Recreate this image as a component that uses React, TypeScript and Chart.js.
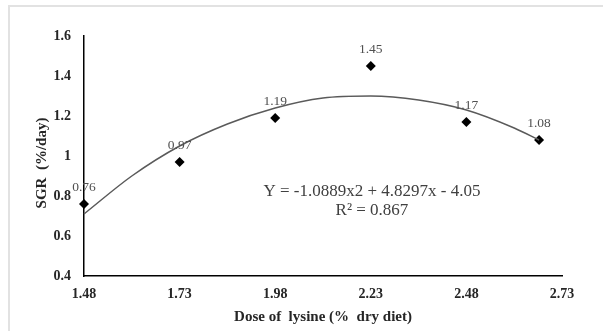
import React, { useEffect, useRef } from "react";
import { Chart, registerables } from "chart.js";

Chart.register(...registerables);

// Observed data points
const doseX: number[] = [1.48, 1.73, 1.98, 2.23, 2.48, 2.67];
const sgrY: number[] = [0.76, 0.97, 1.19, 1.45, 1.17, 1.08];
const pointLabels: string[] = ["0.76", "0.97", "1.19", "1.45", "1.17", "1.08"];

// Trend curve
const trendX: number[] = [1.48, 1.605, 1.73, 1.855, 1.98, 2.105, 2.23, 2.355, 2.48, 2.605, 2.67];
const trendY: number[] = [0.71, 0.9, 1.05, 1.16, 1.24, 1.29, 1.3, 1.28, 1.23, 1.14, 1.08];

// Axis ticks
const xTicks: number[] = [1.48, 1.73, 1.98, 2.23, 2.48, 2.73];
const xTickLabels: string[] = ["1.48", "1.73", "1.98", "2.23", "2.48", "2.73"];
const yTicks: number[] = [0.4, 0.6, 0.8, 1.0, 1.2, 1.4, 1.6];
const yTickLabels: string[] = ["0.4", "0.6", "0.8", "1", "1.2", "1.4", "1.6"];

const xTitle = "Dose of  lysine (%  dry diet)";
const yTitle = "SGR  (%/day)";
const equationLines: string[] = ["Y = -1.0889x2 + 4.8297x - 4.05", "R\u00B2 = 0.867"];
const equationAnchor: number[] = [2.233, 0.82];

const SERIF = '"Liberation Serif", "Times New Roman", serif';

const labelPlugin = {
  id: "labelPlugin",
  afterDatasetsDraw(chart: any) {
    const ctx = chart.ctx;
    const meta = chart.getDatasetMeta(1);
    ctx.save();
    ctx.font = `13.5px ${SERIF}`;
    ctx.fillStyle = "#505050";
    ctx.textAlign = "center";
    ctx.textBaseline = "middle";
    meta.data.forEach((el: any, i: number) => {
      ctx.fillText(pointLabels[i], el.x, el.y - 17);
    });
    const xs = chart.scales.x;
    const ys = chart.scales.y;
    const ex = xs.getPixelForValue(equationAnchor[0]);
    const ey = ys.getPixelForValue(equationAnchor[1]);
    ctx.font = `17px ${SERIF}`;
    ctx.fillStyle = "#404040";
    equationLines.forEach((t, i) => {
      ctx.fillText(t, ex, ey + i * 19);
    });
    // y-axis title
    const ya = chart.chartArea;
    ctx.translate(42, (ya.top + ya.bottom) / 2 + 7);
    ctx.rotate(-Math.PI / 2);
    ctx.font = `bold 15px ${SERIF}`;
    ctx.fillStyle = "#262626";
    ctx.fillText(yTitle, 0, 0);
    ctx.restore();
  },
};

export default function App() {
  const ref = useRef<HTMLCanvasElement | null>(null);

  useEffect(() => {
    if (!ref.current) return;
    const chart = new Chart(ref.current, {
      type: "scatter",
      data: {
        datasets: [
          {
            type: "line",
            data: trendX.map((x, i) => ({ x, y: trendY[i] })),
            borderColor: "#5a5a5a",
            borderWidth: 1.5,
            pointRadius: 0,
            cubicInterpolationMode: "monotone",
            fill: false,
            clip: false,
          } as any,
          {
            type: "scatter",
            data: doseX.map((x, i) => ({ x, y: sgrY[i] })),
            pointStyle: "rectRot",
            pointRadius: 5,
            backgroundColor: "#000000",
            borderColor: "#000000",
            borderWidth: 0,
            clip: false,
          } as any,
        ],
      },
      options: {
        responsive: false,
        maintainAspectRatio: false,
        animation: false,
        layout: { padding: { left: 0, right: 41, top: 36, bottom: 0 } },
        plugins: {
          legend: { display: false },
          tooltip: { enabled: false },
        },
        scales: {
          x: {
            type: "linear",
            position: "bottom",
            min: 1.48,
            max: 2.73,
            afterBuildTicks: (scale: any) => {
              scale.ticks = xTicks.map((v) => ({ value: v }));
            },
            afterFit: (scale: any) => {
              scale.height = 55;
            },
            grid: { display: false, drawTicks: false },
            border: { display: true, color: "#000000", width: 1.5 },
            ticks: {
              padding: 10,
              color: "#262626",
              font: { family: SERIF, size: 14, weight: "bold" },
              callback: (v: any) => {
                const i = xTicks.findIndex((t) => Math.abs(t - Number(v)) < 1e-6);
                return i >= 0 ? xTickLabels[i] : "";
              },
            },
            title: {
              display: true,
              text: xTitle,
              color: "#262626",
              font: { family: SERIF, size: 15, weight: "bold" },
              padding: { top: 0, bottom: 5 },
            },
          },
          y: {
            type: "linear",
            min: 0.4,
            max: 1.6,
            afterBuildTicks: (scale: any) => {
              scale.ticks = yTicks.map((v) => ({ value: v }));
            },
            afterFit: (scale: any) => {
              scale.width = 84;
            },
            grid: { display: false, drawTicks: false },
            border: { display: true, color: "#000000", width: 1.5 },
            ticks: {
              padding: 13,
              color: "#262626",
              font: { family: SERIF, size: 14, weight: "bold" },
              callback: (v: any) => {
                const i = yTicks.findIndex((t) => Math.abs(t - Number(v)) < 1e-6);
                return i >= 0 ? yTickLabels[i] : "";
              },
            },
            title: { display: false },
          },
        },
      } as any,
      plugins: [labelPlugin],
    });
    return () => chart.destroy();
  }, []);

  return (
    <div style={{ position: "absolute", left: 0, top: 0, width: 603, height: 331, overflow: "hidden", background: "#ffffff" }}>
      <div
        style={{
          position: "absolute",
          left: 8,
          top: 5,
          width: 620,
          height: 400,
          border: "2px solid #e2e2e2",
          boxSizing: "border-box",
        }}
      />
      <canvas ref={ref} width={603} height={331} style={{ position: "absolute", left: 0, top: 0, width: 603, height: 331 }} />
    </div>
  );
}
